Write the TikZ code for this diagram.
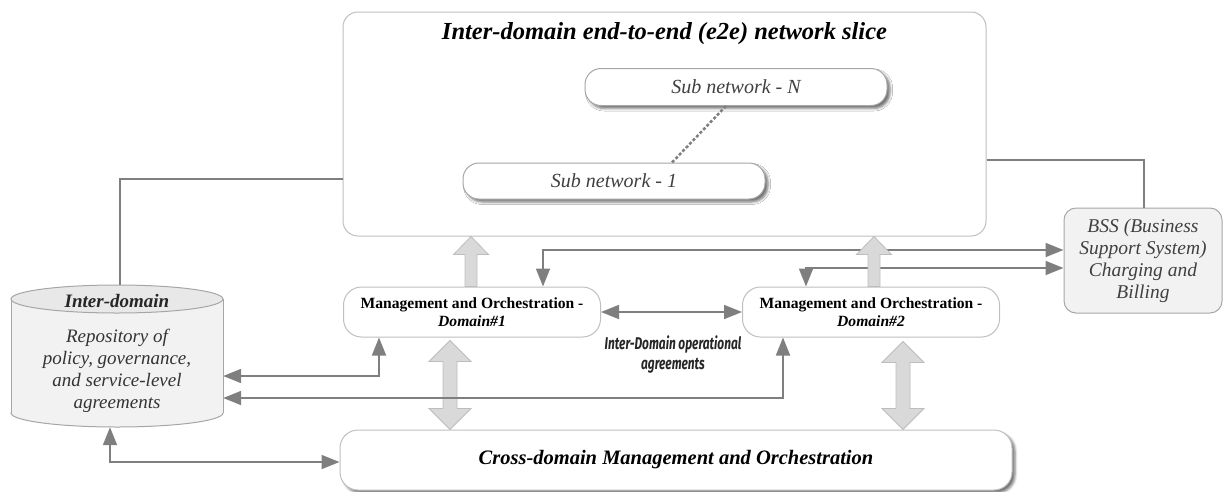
\documentclass[tikz,border=0pt]{standalone}
\usepackage{fontspec}
\setmainfont{Liberation Serif}
\newfontfamily\condfont[FakeStretch=0.7]{Fira Sans}
\usetikzlibrary{arrows.meta,calc,shadows.blur}

\definecolor{edge}{HTML}{BFBFBF}
\definecolor{boxedge}{HTML}{A6A6A6}
\definecolor{wirecol}{HTML}{7F7F7F}
\definecolor{blockfill}{HTML}{D9D9D9}
\definecolor{blockedge}{HTML}{BDBDBD}
\definecolor{panel}{HTML}{F2F2F2}
\definecolor{capfill}{HTML}{E8E8E8}
\definecolor{inktext}{HTML}{404040}

\newcommand\fsz[2]{\fontsize{#1}{#2}\selectfont}

% wide grey block arrow pointing up: #1 apex, #2 foot (same x)
\newcommand\upblock[2]{%
  \path[blockarrow] let \p1=(#1), \p2=(#2) in
    (\x1,\y1) -- (\x1+17.5pt,\y1-18pt) -- (\x1+6pt,\y1-18pt) -- (\x1+6pt,\y2)
    -- (\x1-6pt,\y2) -- (\x1-6pt,\y1-18pt) -- (\x1-17.5pt,\y1-18pt) -- cycle;}
% wide grey two-headed block arrow: #1 upper apex, #2 lower apex (same x)
\newcommand\dblblock[2]{%
  \path[blockarrow] let \p1=(#1), \p2=(#2) in
    (\x1,\y1) -- (\x1+21pt,\y1-21pt) -- (\x1+7pt,\y1-21pt) -- (\x1+7pt,\y2+21pt)
    -- (\x1+21pt,\y2+21pt) -- (\x1,\y2) -- (\x1-21pt,\y2+21pt) -- (\x1-7pt,\y2+21pt)
    -- (\x1-7pt,\y1-21pt) -- (\x1-21pt,\y1-21pt) -- cycle;}

\begin{document}
\begin{tikzpicture}[x=1pt,y=-1pt,
  framebox/.style={draw=edge, line width=1pt, fill=white, inner sep=0pt, align=center},
  softshadow/.style={blur shadow={shadow xshift=3pt, shadow yshift=-3pt,
      shadow blur radius=2.5pt, shadow opacity=55}},
  subbox/.style={framebox, draw=boxedge, rounded corners=16pt, minimum width=302pt,
      minimum height=37pt, softshadow, font=\fsz{20}{22}\itshape, text=inktext},
  mobox/.style={framebox, rounded corners=18pt, minimum width=257pt,
      minimum height=50pt, font=\fsz{15.6}{18}},
  wire/.style={draw=wirecol, line width=1.8pt},
  twoway/.style={wire, {Triangle[length=18pt,width=14pt]}-{Triangle[length=18pt,width=14pt]}},
  dashline/.style={draw=wirecol, line width=2.5pt, dash pattern=on 3pt off 2pt},
  blockarrow/.style={fill=blockfill, draw=blockedge, line width=0.8pt, line join=miter}]

\useasboundingbox (0,0) rectangle (1223,491);

% end-to-end slice with its sub networks
\node[framebox, rounded corners=15pt, minimum width=643pt, minimum height=224pt] (slice) at (664.5,124) {};
\node[font=\fsz{24.5}{26}\bfseries\itshape] (title) at (664.5,34) {Inter-domain end-to-end (e2e) network slice};
\node[subbox] (subN) at (736,87) {Sub network - N};
\node[subbox, minimum height=36pt] (sub1) at (614,181) {Sub network - 1};
\draw[dashline] (subN.south -| 726,0) -- (sub1.north -| 672,0);

% business support system
\node[framebox, fill=panel, draw=boxedge, rounded corners=12pt, minimum width=158pt,
      minimum height=105pt, font=\fsz{19.5}{22}\itshape, text=inktext] (bss) at (1143,260.5)
      {BSS (Business\\Support System)\\Charging and\\Billing};

% per-domain management and orchestration
\node[mobox] (mo1) at (472,312) {\bfseries Management and Orchestration -\\\bfseries\itshape Domain\#1};
\node[mobox] (mo2) at (871,312) {\bfseries Management and Orchestration -\\\bfseries\itshape Domain\#2};

% cross-domain layer
\node[framebox, rounded corners=18pt, minimum width=672pt, minimum height=60pt, softshadow,
      font=\fsz{20.5}{22}\bfseries\itshape] (cross) at (676,460) {Cross-domain Management and Orchestration};

% repository cylinder
\node[minimum width=212pt, minimum height=142pt, inner sep=0pt] (repo) at (117,356) {};
\filldraw[fill=panel, draw=boxedge, line width=1pt] (117,413) ellipse (106 and 14);
\fill[panel] (11,299) rectangle (223,413);
\draw[boxedge, line width=1pt] (11,299) -- (11,413) (223,299) -- (223,413);
\filldraw[fill=capfill, draw=boxedge, line width=1pt] (117,299) ellipse (106 and 14);
\node[font=\fsz{19}{22}\bfseries\itshape, text=black!85] (repotitle) at (117,301) {Inter-domain};
\node[font=\fsz{19}{22}\itshape, align=center, text=black!80] (repotext) at (117,371)
      {Repository of\\policy, governance,\\and service-level\\agreements};

% label of the peer link
\node[font=\condfont\fsz{17}{20}\bfseries\itshape, align=center, text=black!85] (agree) at (673,355)
      {Inter-Domain operational\\agreements};

% two-headed block arrows down to the cross-domain layer
\dblblock{$(mo1.south -| 450,0)+(0,3)$}{cross.north -| 450,0}
\dblblock{$(mo2.south -| 903,0)+(0,4)$}{cross.north -| 903,0}

% connectors
\draw[wire] (slice.west |- 0,179) -| (repo.north -| 120,0);
\draw[wire] (slice.east |- 0,160) -| (bss.north -| 1144,0);
\draw[twoway] (bss.west |- 0,250) -| (mo1.north -| 543,0);
\draw[twoway] (bss.west |- 0,268) -| (mo2.north -| 806,0);
\draw[twoway] (mo1.east) -- (mo2.west);
\draw[twoway] (repo.east |- 0,376) -| (mo1.south -| 379,0);
\draw[twoway] (repo.east |- 0,398) -| (mo2.south -| 783,0);
\draw[twoway] (repo.south -| 110,0) |- (cross.west |- 0,462);

% block arrows up into the slice
\upblock{slice.south -| 471,0}{mo1.north -| 471,0}
\upblock{slice.south -| 874,0}{mo2.north -| 874,0}
\end{tikzpicture}
\end{document}
